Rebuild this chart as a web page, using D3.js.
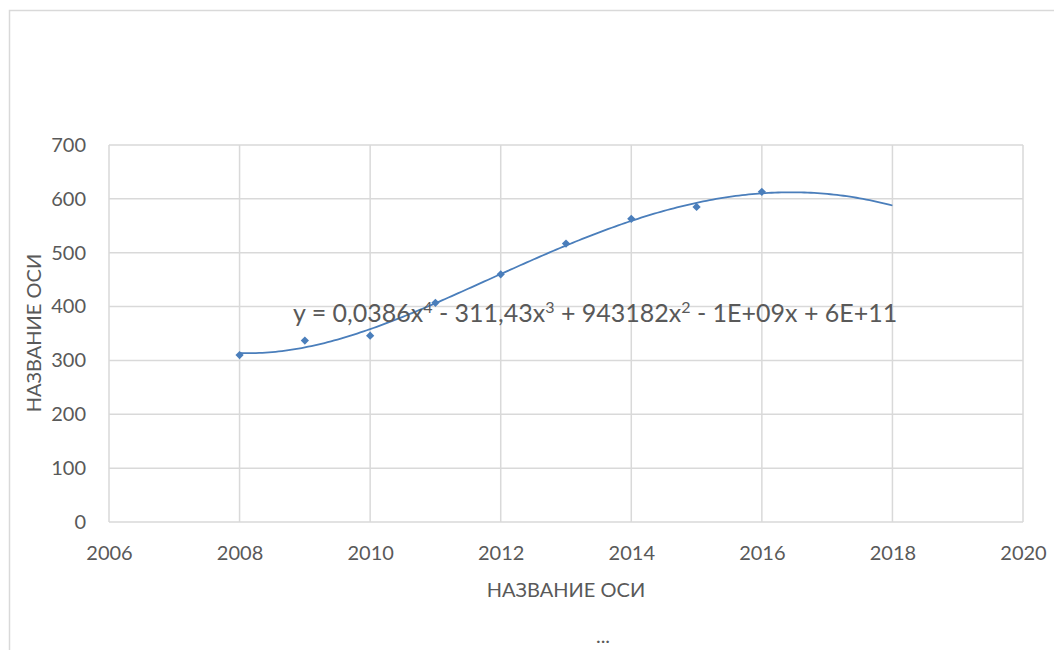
<!DOCTYPE html>
<html>
<head>
<meta charset="utf-8">
<script src="https://cdn.jsdelivr.net/npm/d3@7"></script>
<style>
  body { margin: 0; background: #fff; }
  text { font-family: Lato, "Open Sans", sans-serif; fill: #595959; }
</style>
</head>
<body>
<script>
// data
const years = [2008, 2009, 2010, 2011, 2012, 2013, 2014, 2015, 2016];
const values = [310, 337, 346, 407, 460, 517, 563, 585, 613];
const xTicks = [2006, 2008, 2010, 2012, 2014, 2016, 2018, 2020];
const yTicks = [0, 100, 200, 300, 400, 500, 600, 700];
const axisTitle = "НАЗВАНИЕ ОСИ";

const w = 1054, h = 650;
const margin = { top: 145, right: 31, bottom: 128, left: 109 };
const innerWidth = w - margin.left - margin.right;
const innerHeight = h - margin.top - margin.bottom;

const svg = d3.select("body").append("svg")
    .attr("width", w)
    .attr("height", h);

// chart frame (runs off the right and bottom edges)
svg.append("path")
    .attr("d", "M9.5,660V10.5H1060")
    .attr("fill", "none")
    .attr("stroke", "#d9d9d9")
    .attr("stroke-width", 1.5);

const xScale = d3.scaleLinear().domain([2006, 2020]).range([0, innerWidth]);
const yScale = d3.scaleLinear().domain([0, 700]).range([innerHeight, 0]);

const g = svg.append("g")
    .attr("transform", `translate(${margin.left},${margin.top})`);

// grid
g.selectAll(".hgrid").data(yTicks).enter().append("line")
    .attr("x1", 0).attr("x2", innerWidth)
    .attr("y1", d => yScale(d)).attr("y2", d => yScale(d))
    .attr("stroke", "#d9d9d9").attr("stroke-width", 1.5);
g.selectAll(".vgrid").data(xTicks).enter().append("line")
    .attr("x1", d => xScale(d)).attr("x2", d => xScale(d))
    .attr("y1", 0).attr("y2", innerHeight)
    .attr("stroke", "#d9d9d9").attr("stroke-width", 1.5);

// axes (labels only)
const yAxis = d3.axisLeft(yScale).tickValues(yTicks).tickSize(0).tickPadding(23);
const xAxis = d3.axisBottom(xScale).tickValues(xTicks).tickSize(0).tickFormat(d3.format("d"));
const yAxisG = g.append("g").call(yAxis);
const xAxisG = g.append("g").attr("transform", `translate(0,${innerHeight})`).call(xAxis);
[yAxisG, xAxisG].forEach(a => {
    a.select(".domain").remove();
    a.selectAll("text").style("font-size", "20px").attr("fill", "#595959")
        .style("font-family", "Lato, 'Open Sans', sans-serif");
});
xAxisG.selectAll("text").attr("y", 38).attr("dy", 0);

// polynomial trendline (degree 4, least squares on centred x)
function polyFit(xs, ys, deg) {
    const n = deg + 1;
    const A = [];
    for (let i = 0; i < n; i++) {
        A.push(new Array(n + 1).fill(0));
        for (let j = 0; j < n; j++) A[i][j] = d3.sum(xs, x => Math.pow(x, i + j));
        A[i][n] = d3.sum(xs, (x, k) => ys[k] * Math.pow(x, i));
    }
    for (let c = 0; c < n; c++) {
        let p = c;
        for (let r = c + 1; r < n; r++) if (Math.abs(A[r][c]) > Math.abs(A[p][c])) p = r;
        [A[c], A[p]] = [A[p], A[c]];
        for (let r = 0; r < n; r++) {
            if (r === c) continue;
            const f = A[r][c] / A[c][c];
            for (let k = c; k <= n; k++) A[r][k] -= f * A[c][k];
        }
    }
    return A.map((row, i) => row[n] / row[i]);
}
const coef = polyFit(years.map(y => y - 2012), values, 4);
const trend = d3.range(2008, 2018.001, 0.05).map(x => {
    const t = x - 2012;
    return [x, coef.reduce((s, c, i) => s + c * Math.pow(t, i), 0)];
});
g.append("path")
    .datum(trend)
    .attr("fill", "none")
    .attr("stroke", "#4a7ebb")
    .attr("stroke-width", 1.8)
    .attr("d", d3.line().x(d => xScale(d[0])).y(d => yScale(d[1])));

// diamond markers
g.selectAll(".pt").data(years).enter().append("path")
    .attr("transform", (d, i) => `translate(${xScale(d)},${yScale(values[i])}) rotate(45)`)
    .attr("d", d3.symbol().type(d3.symbolSquare).size(34))
    .attr("fill", "#4a7ebb");

// trendline equation
const eq = svg.append("text")
    .attr("x", 293).attr("y", 322)
    .style("font-size", "25px");
const parts = [["y = 0,0386x", 0], ["4", 1], [" - 311,43x", 0], ["3", 1], [" + 943182x", 0], ["2", 1], [" - 1E+09x + 6E+11", 0]];
parts.forEach(p => {
    eq.append("tspan").text(p[0])
        .attr("baseline-shift", p[1] ? "super" : null)
        .style("font-size", p[1] ? "16px" : null);
});

// axis titles
svg.append("text")
    .attr("x", 566).attr("y", 597)
    .attr("text-anchor", "middle")
    .style("font-size", "20px")
    .text(axisTitle);
svg.append("text")
    .attr("transform", "translate(41,333) rotate(-90)")
    .attr("text-anchor", "middle")
    .style("font-size", "20px")
    .text(axisTitle);

svg.append("text")
    .attr("x", 603).attr("y", 643)
    .attr("text-anchor", "middle")
    .style("font-size", "20px")
    .text("...");
</script>
</body>
</html>
